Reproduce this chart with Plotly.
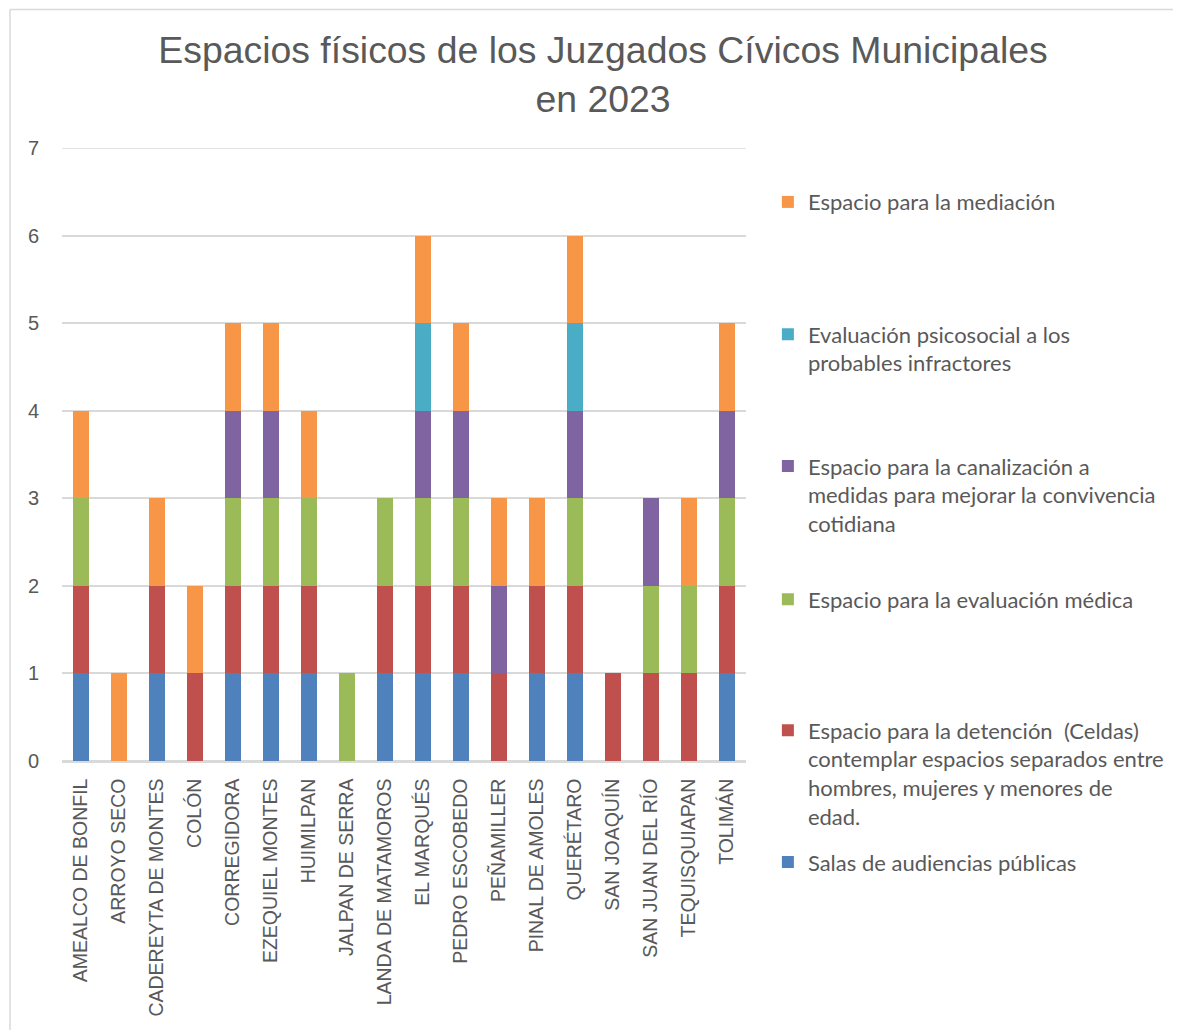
import plotly.graph_objects as go

municipios = ["AMEALCO DE BONFIL", "ARROYO SECO", "CADEREYTA DE MONTES", "COLÓN",
              "CORREGIDORA", "EZEQUIEL MONTES", "HUIMILPAN", "JALPAN DE SERRA",
              "LANDA DE MATAMOROS", "EL MARQUÉS", "PEDRO ESCOBEDO", "PEÑAMILLER",
              "PINAL DE AMOLES", "QUERÉTARO", "SAN JOAQUÍN", "SAN JUAN DEL RÍO",
              "TEQUISQUIAPAN", "TOLIMÁN"]

salas        = [1, 0, 1, 0, 1, 1, 1, 0, 1, 1, 1, 0, 1, 1, 0, 0, 0, 1]
detencion    = [1, 0, 1, 1, 1, 1, 1, 0, 1, 1, 1, 1, 1, 1, 1, 1, 1, 1]
medica       = [1, 0, 0, 0, 1, 1, 1, 1, 1, 1, 1, 0, 0, 1, 0, 1, 1, 1]
canalizacion = [0, 0, 0, 0, 1, 1, 0, 0, 0, 1, 1, 1, 0, 1, 0, 1, 0, 1]
psicosocial  = [0, 0, 0, 0, 0, 0, 0, 0, 0, 1, 0, 0, 0, 1, 0, 0, 0, 0]
mediacion    = [1, 1, 1, 1, 1, 1, 1, 0, 0, 1, 1, 1, 1, 1, 0, 0, 1, 1]

series_names = [
    "Salas de audiencias públicas",
    "Espacio para la detención&nbsp; (Celdas)<br>contemplar espacios separados entre<br>hombres, mujeres y menores de<br>edad.",
    "Espacio para la evaluación médica",
    "Espacio para la canalización a<br>medidas para mejorar la convivencia<br>cotidiana",
    "Evaluación psicosocial a los<br>probables infractores",
    "Espacio para la mediación",
]
series_values = [salas, detencion, medica, canalizacion, psicosocial, mediacion]
series_colors = ["#4F81BD", "#C0504D", "#9BBB59", "#8064A2", "#4BACC6", "#F79646"]
y_ticks = [0, 1, 2, 3, 4, 5, 6, 7]
legend_ids = ["legend7", "legend6", "legend5", "legend4", "legend3", "legend2"]
legend_y = [-0.131, 0.084, 0.298, 0.515, 0.730, 0.946]

fig = go.Figure()
for name, vals, col, lid in zip(series_names, series_values, series_colors, legend_ids):
    fig.add_trace(go.Bar(x=municipios, y=vals, name=name,
                         marker=dict(color=col, line=dict(width=0)),
                         legend=lid, showlegend=True))

legend_font = dict(family="Lato, 'Open Sans', sans-serif", size=22, color="#595959")
layout_legends = {}
for lid, ly in zip(legend_ids, legend_y):
    layout_legends[lid] = dict(x=1.032, y=ly, xanchor="left", yanchor="top",
                               font=legend_font, valign="top",
                               bgcolor="rgba(0,0,0,0)", borderwidth=0)

W, H = 1173, 1022
fig.update_layout(
    width=W, height=H, showlegend=True,
    paper_bgcolor="white", plot_bgcolor="white",
    margin=dict(l=54, r=W - 738, t=140, b=H - 753),
    barmode="stack", bargap=0.6,
    title=dict(text="Espacios físicos de los Juzgados Cívicos Municipales<br>en 2023",
               x=595 / W, xanchor="center", xref="container",
               y=1 - 55 / H, yanchor="middle", yref="container",
               font=dict(family="Liberation Sans, Arial, sans-serif", size=37.4, color="#595959")),
    font=dict(family="Liberation Sans, Arial, sans-serif", color="#595959"),
    **layout_legends,
)

fig.update_xaxes(tickangle=-90, tickfont=dict(size=19.5, color="#595959",
                                              family="Liberation Sans, Arial, sans-serif"),
                 showline=True, linecolor="#D9D9D9", linewidth=1.5,
                 showgrid=False, ticks="", ticklabelstandoff=8)
fig.update_yaxes(range=[y_ticks[0], y_ticks[-1]], tickvals=y_ticks,
                 tickfont=dict(size=20, color="#595959",
                               family="Liberation Sans, Arial, sans-serif"),
                 showgrid=True, gridcolor="#D9D9D9", gridwidth=1.5,
                 zeroline=True, zerolinecolor="#D9D9D9", zerolinewidth=1.5,
                 showline=False, ticks="", ticklabelstandoff=22)

# top gridline (at the edge of the y range, which plotly omits)
fig.add_shape(type="line", xref="paper", yref="y", x0=0, x1=1,
              y0=y_ticks[-1], y1=y_ticks[-1], layer="below",
              line=dict(color="#D9D9D9", width=1.5))

# chart border (top and left edges visible); coordinates in page pixels
px_x = lambda px: (px - 62) / 684
px_y = lambda py: (761 - py) / 613
fig.add_shape(type="line", xref="paper", yref="paper",
              x0=px_x(10), x1=px_x(1200), y0=px_y(9.5), y1=px_y(9.5),
              line=dict(color="#D9D9D9", width=1.5))
fig.add_shape(type="line", xref="paper", yref="paper",
              x0=px_x(10), x1=px_x(10), y0=px_y(9.5), y1=px_y(1060),
              line=dict(color="#D9D9D9", width=1.5))

fig.write_html("out.html")
